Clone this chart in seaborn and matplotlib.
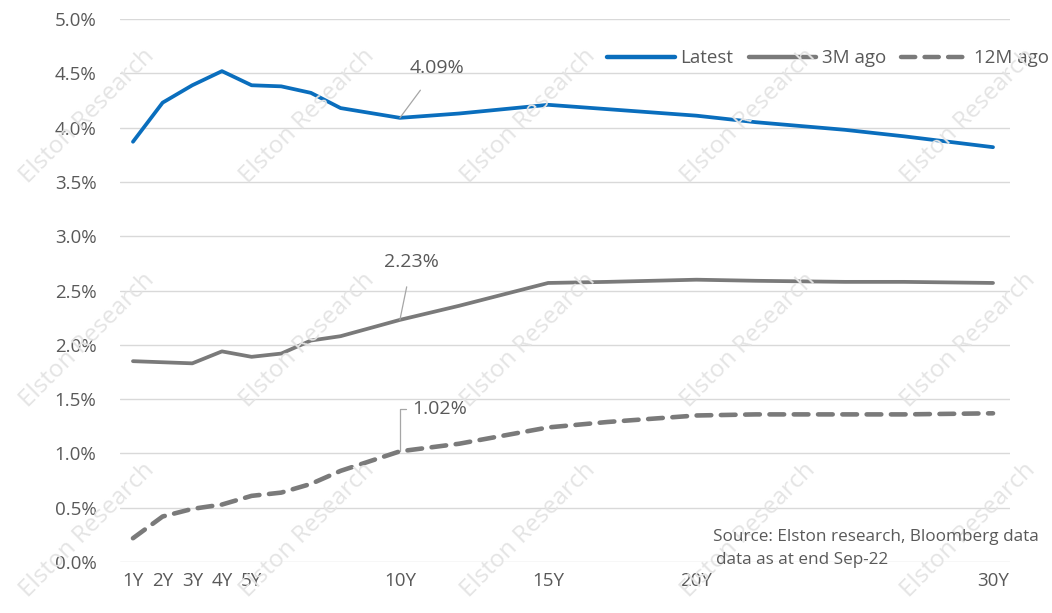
import pandas as pd
import matplotlib.pyplot as plt
import seaborn as sns

# tenor in years and yield (%)
tenors = [1, 2, 3, 4, 5, 6, 7, 8, 10, 12, 15, 17, 20, 22, 25, 27, 30]
latest = [3.87, 4.23, 4.39, 4.52, 4.39, 4.38, 4.32, 4.18, 4.09, 4.13,
          4.21, 4.17, 4.11, 4.05, 3.98, 3.92, 3.82]
m3_ago = [1.85, 1.84, 1.83, 1.94, 1.89, 1.92, 2.04, 2.08, 2.23, 2.36,
          2.57, 2.58, 2.60, 2.59, 2.58, 2.58, 2.57]
m12_ago = [0.22, 0.42, 0.49, 0.53, 0.61, 0.64, 0.72, 0.84, 1.02, 1.09,
           1.24, 1.29, 1.35, 1.36, 1.36, 1.36, 1.37]

series_names = ['Latest', '3M ago', '12M ago']
tick_pos = [1, 2, 3, 4, 5, 10, 15, 20, 30]
tick_labels = ['1Y', '2Y', '3Y', '4Y', '5Y', '10Y', '15Y', '20Y', '30Y']
y_ticks = [0, 0.5, 1.0, 1.5, 2.0, 2.5, 3.0, 3.5, 4.0, 4.5, 5.0]

TXT = '#595959'


def build_frame():
    """Long format frame for seaborn."""
    frames = []
    for name, vals in zip(series_names, [latest, m3_ago, m12_ago]):
        frames.append(pd.DataFrame({'tenor': tenors, 'yield': vals,
                                    'series': name}))
    return pd.concat(frames, ignore_index=True)


def add_watermarks(fig):
    for yy in [0.81, 0.445, 0.135]:
        for xx in [0.083, 0.292, 0.502, 0.711, 0.92]:
            fig.text(xx, yy, 'Elston Research', rotation=45, fontsize=17.5,
                     color='#e4e4e4', ha='center', va='center', zorder=0)


def main():
    sns.set_style('white')
    plt.rcParams['font.family'] = ['Open Sans', 'DejaVu Sans']
    df = build_frame()

    fig = plt.figure(figsize=(10.52, 6.13), dpi=100)
    ax = fig.add_axes([0.114, 0.083, 0.846, 0.886])
    ax.set_facecolor('none')
    add_watermarks(fig)

    sns.lineplot(data=df, x='tenor', y='yield', hue='series', style='series',
                 palette={'Latest': '#0a6ebd', '3M ago': '#7a7a7a',
                          '12M ago': '#7a7a7a'},
                 dashes={'Latest': '', '3M ago': '', '12M ago': (3.2, 2.1)},
                 linewidth=2.7, ax=ax, zorder=3)
    for ln in ax.get_lines():
        ln.set_dash_capstyle('round')
        ln.set_solid_capstyle('round')
    # dashed 12M line is a touch heavier in the original
    ax.get_lines()[2].set_linewidth(3.3)

    ax.set_xlim(0.56, 30.57)
    ax.set_ylim(0, 5.0)
    ax.set_xticks(tick_pos)
    ax.set_xticklabels(tick_labels)
    ax.set_yticks(y_ticks)
    ax.set_yticklabels(['%.1f%%' % v for v in y_ticks])
    ax.tick_params(axis='both', colors=TXT, labelsize=13.5, length=0)
    ax.tick_params(axis='y', pad=17)
    ax.tick_params(axis='x', pad=7)
    ax.grid(axis='y', color='#d9d9d9', linewidth=1)
    sns.despine(ax=ax, left=True, bottom=True)
    ax.set_xlabel('')
    ax.set_ylabel('')

    leg = ax.legend(loc='upper right', bbox_to_anchor=(1.063, 0.975), ncol=3,
                    frameon=False, fontsize=13.5, handlelength=3.6,
                    columnspacing=0.8, handletextpad=0.3)
    for t in leg.get_texts():
        t.set_color(TXT)
    for h in leg.get_lines():
        h.set_linewidth(3.2)
        h.set_dash_capstyle('round')
        h.set_solid_capstyle('round')

    lead = dict(arrowstyle='-', color='#a6a6a6', lw=0.9, shrinkB=0)
    ax.annotate('4.09%', xy=(10, 4.09), xytext=(11.25, 4.55), fontsize=14,
                color=TXT, ha='center', va='center',
                arrowprops=dict(lead, shrinkA=9))
    ax.annotate('2.23%', xy=(10, 2.23), xytext=(10.4, 2.76), fontsize=14,
                color=TXT, ha='center', va='center',
                arrowprops=dict(lead, shrinkA=9))
    ax.annotate('1.02%', xy=(10, 1.02), xytext=(11.35, 1.41), fontsize=14,
                color=TXT, ha='center', va='center',
                arrowprops=dict(lead, shrinkA=2, relpos=(0, 0.5),
                                connectionstyle='angle,angleA=180,angleB=90,rad=0'))

    fig.text(0.678, 0.124, 'Source: Elston research, Bloomberg data',
             fontsize=12.3, color=TXT, ha='left', va='center')
    fig.text(0.681, 0.086, 'data as at end Sep-22',
             fontsize=12.3, color=TXT, ha='left', va='center')

    fig.savefig('out.png', dpi=100)


if __name__ == '__main__':
    main()
